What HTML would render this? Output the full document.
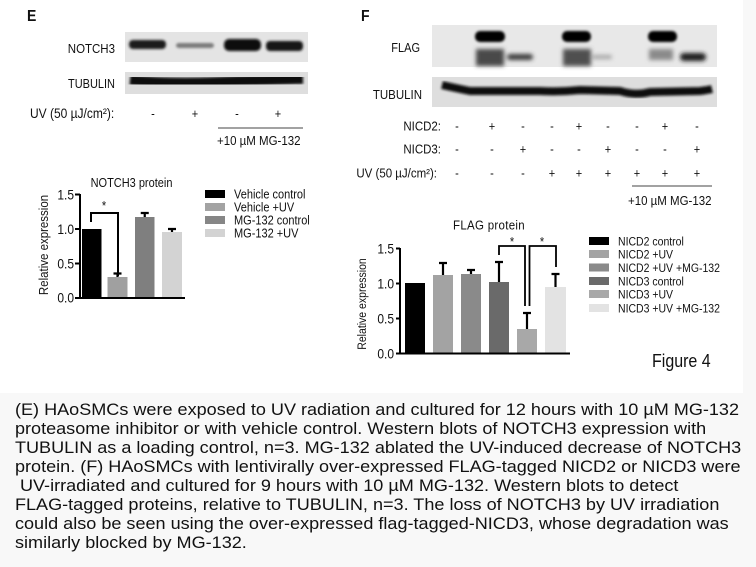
<!DOCTYPE html>
<html>
<head>
<meta charset="utf-8">
<style>
  html,body{margin:0;padding:0;background:#f8f8f8;}
  body{width:756px;height:567px;overflow:hidden;position:relative;}
  svg{position:absolute;left:0;top:0;}
  text{font-family:"Liberation Sans",Arial,sans-serif;fill:#111;}
</style>
</head>
<body>
<svg width="756" height="567" viewBox="0 0 756 567" xmlns="http://www.w3.org/2000/svg">
  <defs>
    <filter id="b1" x="-20%" y="-50%" width="140%" height="200%"><feGaussianBlur stdDeviation="1.2"/></filter>
    <filter id="b2" x="-20%" y="-50%" width="140%" height="200%"><feGaussianBlur stdDeviation="2"/></filter>
  </defs>
  <rect x="0" y="0" width="743" height="393" fill="#ffffff"/>

  <!-- ===== PANEL E ===== -->
  <text transform="translate(27,21) scale(1,1.15)" font-size="14" font-weight="bold">E</text>
  <rect x="125" y="32" width="183" height="30" fill="#e4e4e4"/>
  <g filter="url(#b1)">
    <rect x="129" y="40" width="37" height="9" rx="4" fill="#1c1c1c"/>
    <rect x="176" y="43" width="38" height="5" rx="3" fill="#7a7a7a"/>
    <rect x="224" y="39" width="37" height="12" rx="5" fill="#0e0e0e"/>
    <rect x="266" y="41" width="37" height="10" rx="4" fill="#181818"/>
  </g>
  <rect x="125" y="72" width="183" height="22" fill="#dedede"/>
  <path d="M130,80 Q170,84 215,82 T303,79" stroke="#111" stroke-width="10" fill="none" filter="url(#b1)"/>
  <text transform="translate(115,53) scale(1,1.15)" font-size="11.5" text-anchor="end">NOTCH3</text>
  <text transform="translate(115,88) scale(1,1.15)" font-size="11" text-anchor="end">TUBULIN</text>
  <text transform="translate(30,118) scale(1,1.15)" font-size="12">UV (50 µJ/cm²):</text>
  <g font-size="11" text-anchor="middle">
    <text transform="translate(153,118) scale(1,1.15)">-</text>
    <text transform="translate(195,118) scale(1,1.15)">+</text>
    <text transform="translate(237,118) scale(1,1.15)">-</text>
    <text transform="translate(278,118) scale(1,1.15)">+</text>
  </g>
  <line x1="218" y1="128" x2="303" y2="128" stroke="#444" stroke-width="1"/>
  <text transform="translate(217,145) scale(1,1.15)" font-size="11.5">+10 µM MG-132</text>

  <!-- Chart E -->
  <text transform="translate(131.5,187) scale(1,1.15)" font-size="11" text-anchor="middle">NOTCH3 protein</text>
  <text transform="translate(48,245) rotate(-90) scale(1,1.15)" font-size="11.5" text-anchor="middle">Relative expression</text>
  <g font-size="12" text-anchor="end">
    <text transform="translate(74,199.5) scale(1,1.15)">1.5</text>
    <text transform="translate(74,234) scale(1,1.15)">1.0</text>
    <text transform="translate(74,268.5) scale(1,1.15)">0.5</text>
    <text transform="translate(74,302.5) scale(1,1.15)">0.0</text>
  </g>
  <rect x="82" y="229" width="19.5" height="68" fill="#000"/>
  <rect x="107.5" y="277" width="20" height="20" fill="#a0a0a0"/>
  <rect x="135" y="217" width="19.5" height="80" fill="#7f7f7f"/>
  <rect x="162" y="232" width="20" height="65" fill="#d3d3d3"/>
  <g stroke="#000" stroke-width="2.2" fill="none">
    <path d="M117.5,277 V273.5 M113.5,273.5 H121.5"/>
    <path d="M144.75,217 V213 M140.75,213 H148.75"/>
    <path d="M172,232 V229 M168,229 H176"/>
  </g>
  <g stroke="#000" stroke-width="2" fill="none">
    <path d="M80,194 V298 H185"/>
    <path d="M75,194.5 H80 M75,229 H80 M75,263.5 H80 M75,298 H80"/>
    <path d="M91,222 V213 H118 V276"/>
  </g>
  <text transform="translate(104,210) scale(1,1.15)" font-size="11" text-anchor="middle">*</text>
  <rect x="205" y="190" width="20" height="8" fill="#000"/>
  <rect x="205" y="203" width="20" height="8" fill="#a3a3a3"/>
  <rect x="205" y="216" width="20" height="8" fill="#868686"/>
  <rect x="205" y="229" width="20" height="8" fill="#d3d3d3"/>
  <g font-size="11">
    <text transform="translate(234,198.5) scale(1,1.15)">Vehicle control</text>
    <text transform="translate(234,211.5) scale(1,1.15)">Vehicle +UV</text>
    <text transform="translate(234,224.5) scale(1,1.15)">MG-132 control</text>
    <text transform="translate(234,237.5) scale(1,1.15)">MG-132 +UV</text>
  </g>

  <!-- ===== PANEL F ===== -->
  <text transform="translate(361,21) scale(1,1.15)" font-size="14" font-weight="bold">F</text>
  <rect x="432" y="25" width="285" height="42" fill="#e8e8e8"/>
  <g filter="url(#b1)">
    <rect x="475" y="31" width="30" height="11" rx="5" fill="#050505"/>
    <rect x="562" y="31" width="29" height="11" rx="5" fill="#050505"/>
    <rect x="648" y="31" width="29" height="11" rx="5" fill="#050505"/>
  </g>
  <g filter="url(#b2)">
    <rect x="476" y="49" width="28" height="17" fill="#4a4a4a"/>
    <rect x="563" y="49" width="28" height="17" fill="#505050"/>
    <rect x="649" y="49" width="24" height="11" fill="#8a8a8a"/>
    <rect x="507" y="54" width="26" height="6" rx="3" fill="#3a3a3a"/>
    <rect x="592" y="55" width="20" height="4" rx="2" fill="#a5a5a5"/>
    <rect x="680" y="53" width="26" height="8" rx="4" fill="#1a1a1a"/>
  </g>
  <rect x="432" y="77" width="285" height="30" fill="#dedede"/>
  <path d="M442,85 Q455,88 470,91 L540,91 Q560,92 580,90 L620,91 Q635,96 650,92 L700,91 Q708,90 712,89" stroke="#111" stroke-width="8" fill="none" filter="url(#b1)"/>
  <text transform="translate(420,52) scale(1,1.15)" font-size="11" text-anchor="end">FLAG</text>
  <text transform="translate(422,99) scale(1,1.15)" font-size="11.5" text-anchor="end">TUBULIN</text>
  <g font-size="11.5" text-anchor="end">
    <text transform="translate(441,130.5) scale(1,1.15)">NICD2:</text>
    <text transform="translate(441,153.5) scale(1,1.15)">NICD3:</text>
    <text transform="translate(437,177.5) scale(1,1.15)">UV (50 µJ/cm²):</text>
  </g>
  <g font-size="11" text-anchor="middle">
    <text transform="translate(457,130.5) scale(1,1.15)">-</text><text transform="translate(492,130.5) scale(1,1.15)">+</text><text transform="translate(523,130.5) scale(1,1.15)">-</text>
    <text transform="translate(552,130.5) scale(1,1.15)">-</text><text transform="translate(579,130.5) scale(1,1.15)">+</text><text transform="translate(608,130.5) scale(1,1.15)">-</text>
    <text transform="translate(637,130.5) scale(1,1.15)">-</text><text transform="translate(665,130.5) scale(1,1.15)">+</text><text transform="translate(697,130.5) scale(1,1.15)">-</text>

    <text transform="translate(457,153.5) scale(1,1.15)">-</text><text transform="translate(492,153.5) scale(1,1.15)">-</text><text transform="translate(523,153.5) scale(1,1.15)">+</text>
    <text transform="translate(552,153.5) scale(1,1.15)">-</text><text transform="translate(579,153.5) scale(1,1.15)">-</text><text transform="translate(608,153.5) scale(1,1.15)">+</text>
    <text transform="translate(637,153.5) scale(1,1.15)">-</text><text transform="translate(665,153.5) scale(1,1.15)">-</text><text transform="translate(697,153.5) scale(1,1.15)">+</text>

    <text transform="translate(457,177.5) scale(1,1.15)">-</text><text transform="translate(492,177.5) scale(1,1.15)">-</text><text transform="translate(523,177.5) scale(1,1.15)">-</text>
    <text transform="translate(552,177.5) scale(1,1.15)">+</text><text transform="translate(579,177.5) scale(1,1.15)">+</text><text transform="translate(608,177.5) scale(1,1.15)">+</text>
    <text transform="translate(637,177.5) scale(1,1.15)">+</text><text transform="translate(665,177.5) scale(1,1.15)">+</text><text transform="translate(697,177.5) scale(1,1.15)">+</text>
  </g>
  <line x1="632" y1="186" x2="712" y2="186" stroke="#444" stroke-width="1"/>
  <text transform="translate(628,205) scale(1,1.15)" font-size="11.5">+10 µM MG-132</text>

  <!-- Chart F -->
  <text transform="translate(489,229.5) scale(1,1.15)" font-size="11.5" text-anchor="middle" letter-spacing="0.3">FLAG protein</text>
  <text transform="translate(366,304) rotate(-90) scale(1,1.15)" font-size="10.5" text-anchor="middle">Relative expression</text>
  <g font-size="12" text-anchor="end">
    <text transform="translate(394,253.5) scale(1,1.15)">1.5</text>
    <text transform="translate(394,288.5) scale(1,1.15)">1.0</text>
    <text transform="translate(394,323.5) scale(1,1.15)">0.5</text>
    <text transform="translate(394,358.5) scale(1,1.15)">0.0</text>
  </g>
  <rect x="405" y="283" width="20" height="70" fill="#000"/>
  <rect x="433" y="275" width="20" height="78" fill="#a3a3a3"/>
  <rect x="461" y="274" width="20" height="79" fill="#8a8a8a"/>
  <rect x="489" y="282" width="20" height="71" fill="#6a6a6a"/>
  <rect x="517" y="329" width="20" height="24" fill="#a8a8a8"/>
  <rect x="545" y="287" width="21" height="66" fill="#e3e3e3"/>
  <g stroke="#000" stroke-width="2.2" fill="none">
    <path d="M443,275 V263 M439,263 H447"/>
    <path d="M471,274 V270 M467,270 H475"/>
    <path d="M499,282 V262 M495,262 H503"/>
    <path d="M527,329 V313 M523,313 H531"/>
    <path d="M555.5,287 V274 M551.5,274 H559.5"/>
  </g>
  <g stroke="#000" stroke-width="2" fill="none">
    <path d="M400,248 V353.5 H570"/>
    <path d="M396,248.5 H400 M396,283.5 H400 M396,318.5 H400 M396,353.5 H400"/>
  </g>
  <g stroke="#000" stroke-width="1.8" fill="none">
    <path d="M499,255 V246 H525 V306"/>
    <path d="M529.5,306 V246 H556 V267"/>
  </g>
  <text transform="translate(512,246) scale(1,1.15)" font-size="11" text-anchor="middle">*</text>
  <text transform="translate(542,246) scale(1,1.15)" font-size="11" text-anchor="middle">*</text>
  <rect x="589" y="237" width="20" height="8" fill="#000"/>
  <rect x="589" y="250" width="20" height="8" fill="#a3a3a3"/>
  <rect x="589" y="263.5" width="20" height="8" fill="#8a8a8a"/>
  <rect x="589" y="277" width="20" height="8" fill="#6a6a6a"/>
  <rect x="589" y="290" width="20" height="8" fill="#a8a8a8"/>
  <rect x="589" y="304" width="20" height="8" fill="#e3e3e3"/>
  <g font-size="10.5">
    <text transform="translate(618,245.5) scale(1,1.15)">NICD2 control</text>
    <text transform="translate(618,258.5) scale(1,1.15)">NICD2 +UV</text>
    <text transform="translate(618,272) scale(1,1.15)">NICD2 +UV +MG-132</text>
    <text transform="translate(618,285.5) scale(1,1.15)">NICD3 control</text>
    <text transform="translate(618,298.5) scale(1,1.15)">NICD3 +UV</text>
    <text transform="translate(618,312.5) scale(1,1.15)">NICD3 +UV +MG-132</text>
  </g>
  <text transform="translate(652,367) scale(1,1.15)" font-size="16">Figure 4</text>

  <!-- ===== CAPTION ===== -->
  <g font-size="17" fill="#111" transform="scale(1.063,1)">
    <text x="14.1" y="415">(E) HAoSMCs were exposed to UV radiation and cultured for 12 hours with 10 µM MG-132</text>
    <text x="14.1" y="434">proteasome inhibitor or with vehicle control. Western blots of NOTCH3 expression with</text>
    <text x="14.1" y="453">TUBULIN as a loading control, n=3. MG-132 ablated the UV-induced decrease of NOTCH3</text>
    <text x="14.1" y="472">protein. (F) HAoSMCs with lentivirally over-expressed FLAG-tagged NICD2 or NICD3 were</text>
    <text x="18.8" y="491">UV-irradiated and cultured for 9 hours with 10 µM MG-132. Western blots to detect</text>
    <text x="14.1" y="510">FLAG-tagged proteins, relative to  TUBULIN, n=3. The loss of NOTCH3 by UV irradiation</text>
    <text x="14.1" y="529">could also be seen using the over-expressed flag-tagged-NICD3, whose degradation was</text>
    <text x="14.1" y="548">similarly blocked by MG-132.</text>
  </g>
</svg>
</body>
</html>
